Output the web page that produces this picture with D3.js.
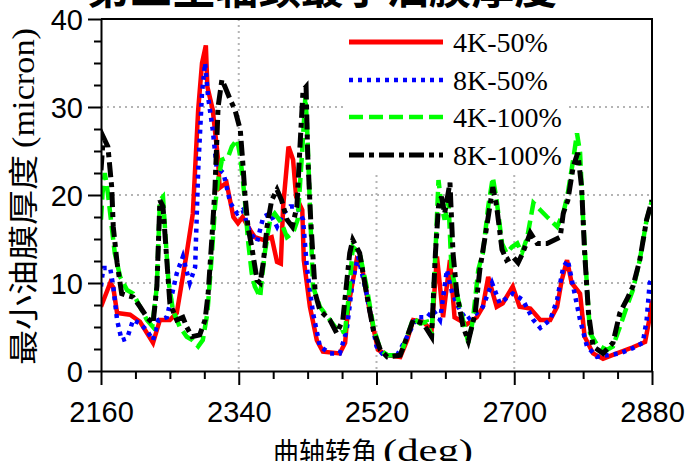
<!DOCTYPE html>
<html>
<head>
<meta charset="utf-8">
<script src="https://cdn.jsdelivr.net/npm/d3@7"></script>
<style>
  html, body { margin: 0; padding: 0; background: #fff; }
  svg { display: block; }
</style>
</head>
<body>
<svg id="chart" width="685" height="461"></svg>
<script>
// Minimum oil film thickness of the third main journal, crank angle 2160–2880 deg
const titleText = "第三主轴颈最小油膜厚度";
const xLabelCn = "曲轴转角";
const xLabelEn = "(deg)";
const yLabelCn = "最小油膜厚度";
const yLabelEn = "(micron)";

const xMajorTicks = [2160, 2340, 2520, 2700, 2880];
const yMajorTicks = [0, 10, 20, 30, 40];
const seriesNames = ["4K-50%", "8K-50%", "4K-100%", "8K-100%"];

// [crank angle (deg), film thickness (micron)]
const s4k50 = [
  [2160,7.3],[2172,10.0],[2176,9.5],[2181,6.6],[2198,6.4],[2211,5.6],[2228,3.2],[2237,5.8],
  [2250,5.8],[2259,6.6],[2272,13.4],[2280,17.9],[2287,29.7],[2292,35.0],[2297,37.0],[2299,32.3],
  [2306,29.7],[2313,24.0],[2315,20.8],[2324,21.4],[2333,17.5],[2339,16.8],[2345,17.5],[2355,16.0],
  [2361,15.2],[2372,14.9],[2383,15.2],[2390,12.4],[2395,12.2],[2398,18.7],[2405,25.5],[2411,24.0],
  [2415,19.8],[2423,18.3],[2425,12.6],[2433,7.3],[2442,3.5],[2450,2.2],[2472,2.0],[2479,3.2],
  [2483,7.3],[2494,12.6],[2501,11.8],[2511,6.9],[2522,2.4],[2534,1.8],[2551,1.6],[2560,3.5],
  [2568,5.8],[2581,5.6],[2592,4.6],[2599,13.0],[2603,9.6],[2607,6.1],[2616,12.6],[2622,6.1],
  [2638,5.3],[2651,6.1],[2659,7.3],[2666,10.7],[2677,7.3],[2685,7.7],[2698,9.6],[2707,7.3],
  [2721,7.1],[2734,5.8],[2747,5.8],[2756,7.3],[2762,10.3],[2769,12.6],[2775,10.0],[2786,8.8],
  [2792,3.9],[2803,2.0],[2816,1.4],[2834,2.0],[2855,2.7],[2871,3.3],[2877,6.1],[2880,8.0]
];
const s8k50 = [
  [2160,9.6],[2163,11.7],[2172,11.7],[2176,9.6],[2181,5.8],[2187,3.5],[2194,3.7],[2202,5.8],
  [2211,5.4],[2220,4.6],[2228,3.5],[2235,5.8],[2246,6.1],[2259,11.1],[2267,13.0],[2276,10.0],
  [2283,11.8],[2287,22.8],[2292,31.6],[2296,35.0],[2300,31.1],[2306,27.4],[2311,23.2],[2320,22.5],
  [2329,19.1],[2338,17.9],[2345,18.3],[2355,15.7],[2364,14.7],[2372,17.5],[2381,17.9],[2390,16.4],
  [2398,17.9],[2407,18.7],[2416,18.7],[2424,17.2],[2429,11.8],[2437,6.6],[2446,2.8],[2459,2.0],
  [2472,2.0],[2481,4.6],[2489,10.3],[2496,13.0],[2507,8.8],[2520,2.8],[2529,1.8],[2547,1.8],
  [2560,3.9],[2573,6.1],[2586,6.1],[2594,6.9],[2603,5.8],[2612,11.5],[2619,8.8],[2629,6.9],
  [2638,5.8],[2651,6.6],[2659,7.3],[2671,10.0],[2681,7.7],[2698,8.8],[2711,8.1],[2725,5.8],
  [2734,4.9],[2747,5.8],[2756,8.1],[2764,11.8],[2770,12.6],[2777,9.6],[2786,5.8],[2795,2.8],
  [2808,1.6],[2821,1.8],[2838,2.0],[2855,2.6],[2868,3.2],[2873,5.8],[2877,10.0],[2880,10.5]
];
const s4k100 = [
  [2160,17.2],[2162,20.2],[2165,22.5],[2169,20.2],[2174,16.4],[2178,13.4],[2185,10.7],[2194,9.2],
  [2202,8.8],[2211,7.3],[2220,5.8],[2227,5.1],[2233,9.6],[2237,19.4],[2241,19.8],[2244,15.7],
  [2248,10.3],[2254,6.9],[2263,5.0],[2272,3.9],[2280,3.5],[2287,2.8],[2293,3.5],[2299,6.6],
  [2305,13.4],[2309,18.7],[2313,21.7],[2318,24.0],[2326,24.3],[2331,25.5],[2338,26.3],[2342,24.3],
  [2345,22.0],[2348,19.4],[2352,14.9],[2357,11.1],[2361,9.6],[2368,8.4],[2370,10.3],[2374,13.4],
  [2381,17.2],[2387,17.9],[2396,16.8],[2403,15.2],[2411,15.7],[2417,17.2],[2423,25.1],[2427,31.1],
  [2429,28.5],[2433,18.7],[2437,9.6],[2446,7.3],[2459,5.8],[2472,4.3],[2479,4.6],[2485,9.6],
  [2489,14.1],[2498,13.4],[2507,9.6],[2516,5.0],[2525,2.4],[2534,1.8],[2551,1.8],[2560,3.9],
  [2568,6.0],[2577,5.4],[2586,5.6],[2592,3.9],[2597,13.4],[2601,21.7],[2605,18.7],[2609,17.2],
  [2614,19.4],[2618,11.5],[2625,8.8],[2633,5.8],[2640,3.2],[2646,5.8],[2653,11.5],[2659,13.4],
  [2666,18.7],[2672,22.0],[2677,19.4],[2684,14.5],[2690,13.4],[2697,14.1],[2704,14.5],[2710,13.4],
  [2717,15.2],[2725,19.1],[2734,18.3],[2743,17.5],[2756,16.4],[2764,17.9],[2770,20.2],[2777,24.0],
  [2782,27.0],[2786,24.8],[2790,17.2],[2795,9.6],[2799,4.3],[2808,3.0],[2821,2.4],[2829,2.8],
  [2838,5.0],[2847,7.3],[2855,9.2],[2864,12.6],[2873,17.2],[2880,19.4]
];
const s8k100 = [
  [2160,22.8],[2163,26.6],[2169,25.5],[2174,20.9],[2176,16.4],[2181,12.3],[2187,8.8],[2194,8.6],
  [2202,8.4],[2211,7.3],[2220,6.1],[2228,5.4],[2233,9.6],[2237,19.4],[2241,18.7],[2246,12.6],
  [2250,7.7],[2259,5.8],[2267,6.1],[2272,5.0],[2279,3.9],[2289,4.1],[2296,5.8],[2300,8.8],
  [2305,15.2],[2309,20.9],[2313,30.0],[2318,33.1],[2322,32.3],[2329,30.8],[2335,29.7],[2342,27.4],
  [2345,24.0],[2348,20.2],[2352,16.4],[2357,14.1],[2364,10.3],[2368,10.0],[2372,12.3],[2377,16.4],
  [2383,19.4],[2390,20.6],[2396,19.4],[2403,17.2],[2410,16.4],[2416,18.7],[2420,25.5],[2424,31.9],
  [2428,32.3],[2430,24.8],[2434,17.2],[2440,8.8],[2446,6.9],[2459,5.8],[2468,4.3],[2476,5.8],
  [2485,13.4],[2489,14.9],[2498,13.4],[2507,8.8],[2516,4.6],[2525,2.4],[2534,1.6],[2551,1.8],
  [2560,3.9],[2568,5.8],[2581,5.4],[2592,3.9],[2597,13.4],[2601,18.7],[2605,19.8],[2609,17.9],
  [2616,21.4],[2620,13.4],[2625,8.8],[2633,5.1],[2640,3.4],[2649,6.6],[2655,11.5],[2664,16.4],
  [2672,20.9],[2677,18.7],[2684,13.8],[2690,12.6],[2698,13.0],[2705,12.3],[2711,13.4],[2721,15.7],
  [2730,14.5],[2743,14.5],[2760,15.2],[2764,17.9],[2770,19.4],[2777,23.2],[2783,24.8],[2788,20.9],
  [2792,13.4],[2797,6.6],[2803,2.8],[2816,2.0],[2829,3.2],[2838,6.6],[2847,8.1],[2855,9.6],
  [2864,12.6],[2873,17.2],[2880,19.4]
];

const series = [
  { name: seriesNames[0], data: s4k50,  color: "#ff0000", width: 4.5, dash: null },
  { name: seriesNames[1], data: s8k50,  color: "#0000ff", width: 4.5, dash: "4,5" },
  { name: seriesNames[2], data: s4k100, color: "#00ff00", width: 4.5, dash: "14,6" },
  { name: seriesNames[3], data: s8k100, color: "#000000", width: 5,   dash: "15,5,5,5" }
];

const svg = d3.select("#chart");
const x = d3.scaleLinear().domain([2160, 2880]).range([101, 652]);
const y = d3.scaleLinear().domain([0, 40]).range([371, 19]);

const latinSans = "'Liberation Sans', Arial, sans-serif";
const latinSerif = "'Liberation Serif', 'Times New Roman', serif";
const cjk = "'Noto Sans CJK SC', 'Noto Sans', sans-serif";

// title (sits partly above the top edge)
svg.append("text")
  .attr("x", 322).attr("y", 4)
  .attr("text-anchor", "middle")
  .attr("font-family", cjk).attr("font-weight", "bold")
  .attr("font-size", 43)
  .attr("textLength", 470).attr("lengthAdjust", "spacingAndGlyphs")
  .text(titleText);

// dotted grid
const grid = svg.append("g").attr("stroke", "#b4b4b4").attr("stroke-width", 2)
  .attr("stroke-dasharray", "2,4");
grid.selectAll("line.gx").data([2340, 2520, 2700]).join("line")
  .attr("x1", d => x(d)).attr("x2", d => x(d))
  .attr("y1", y(40)).attr("y2", y(0));
grid.selectAll("line.gy").data([10, 20, 30]).join("line")
  .attr("x1", x(2160)).attr("x2", x(2880))
  .attr("y1", d => y(d)).attr("y2", d => y(d));

// legend backdrop hides the grid behind it
svg.append("rect").attr("x", 347).attr("y", 20).attr("width", 221).attr("height", 155)
  .attr("fill", "#fff");

// data lines
svg.append("clipPath").attr("id", "plotClip").append("rect")
  .attr("x", x(2160)).attr("y", y(40) - 2).attr("width", x(2880) - x(2160)).attr("height", y(0) - y(40) + 2);
const line = d3.line().x(d => x(d[0])).y(d => y(d[1]));
const plot = svg.append("g").attr("clip-path", "url(#plotClip)");
series.forEach(s => {
  plot.append("path").datum(s.data)
    .attr("d", line)
    .attr("fill", "none")
    .attr("stroke", s.color)
    .attr("stroke-width", s.width)
    .attr("stroke-linejoin", "miter")
    .attr("stroke-dasharray", s.dash);
});

// frame (top and right)
svg.append("path")
  .attr("d", `M${x(2160)},${y(40)}H${x(2880)}V${y(0)}`)
  .attr("fill", "none").attr("stroke", "#000").attr("stroke-width", 2);

// axes
const xMinor = d3.range(2160, 2881, 45).filter(v => !xMajorTicks.includes(v));
const yMinor = d3.range(0, 40.01, 2.5).filter(v => !yMajorTicks.includes(v));

const gxMinor = svg.append("g").attr("transform", `translate(0,${y(0)})`)
  .call(d3.axisBottom(x).tickValues(xMinor).tickSize(8).tickSizeOuter(0).tickFormat(""));
gxMinor.select(".domain").remove();

const gx = svg.append("g").attr("transform", `translate(0,${y(0)})`)
  .call(d3.axisBottom(x).tickValues(xMajorTicks).tickSize(14).tickSizeOuter(0).tickFormat(d3.format("d")));
gx.selectAll("text").attr("y", 51).attr("dy", 0)
  .attr("font-family", latinSans).attr("font-size", 29).attr("fill", "#000");

const gyMinor = svg.append("g").attr("transform", `translate(${x(2160)},0)`)
  .call(d3.axisLeft(y).tickValues(yMinor).tickSize(7).tickSizeOuter(0).tickFormat(""));
gyMinor.select(".domain").remove();

const gy = svg.append("g").attr("transform", `translate(${x(2160)},0)`)
  .call(d3.axisLeft(y).tickValues(yMajorTicks).tickSize(13).tickSizeOuter(0).tickFormat(d3.format("d")));
gy.selectAll("text").attr("x", -18).attr("dy", "0.36em")
  .attr("font-family", latinSans).attr("font-size", 29).attr("fill", "#000");

svg.selectAll(".domain, .tick line").attr("stroke", "#000").attr("stroke-width", 2);

// axis titles
svg.append("text").attr("x", 273).attr("y", 463)
  .attr("font-family", cjk).attr("font-size", 28)
  .attr("textLength", 104).attr("lengthAdjust", "spacingAndGlyphs")
  .text(xLabelCn);
svg.append("text").attr("x", 383).attr("y", 461)
  .attr("font-family", latinSerif).attr("font-size", 31)
  .attr("textLength", 90).attr("lengthAdjust", "spacingAndGlyphs")
  .text(xLabelEn);

const yl = svg.append("g").attr("transform", "translate(34,365) rotate(-90)");
yl.append("text").attr("x", 0).attr("y", 0)
  .attr("font-family", cjk).attr("font-size", 30)
  .attr("textLength", 210).attr("lengthAdjust", "spacingAndGlyphs")
  .text(yLabelCn);
yl.append("text").attr("x", 217).attr("y", 0)
  .attr("font-family", latinSerif).attr("font-size", 31)
  .attr("textLength", 120).attr("lengthAdjust", "spacingAndGlyphs")
  .text(yLabelEn);

// legend
const legY = [42, 80, 117, 155];
const leg = svg.append("g");
series.forEach((s, i) => {
  leg.append("line")
    .attr("x1", 349).attr("x2", 443)
    .attr("y1", legY[i]).attr("y2", legY[i])
    .attr("stroke", s.color).attr("stroke-width", i === 0 ? 5 : s.width)
    .attr("stroke-dasharray", s.dash);
  leg.append("text")
    .attr("x", 453).attr("y", legY[i] + 10)
    .attr("font-family", latinSerif).attr("font-size", 28)
    .attr("fill", "#000")
    .text(s.name);
});
</script>
</body>
</html>
